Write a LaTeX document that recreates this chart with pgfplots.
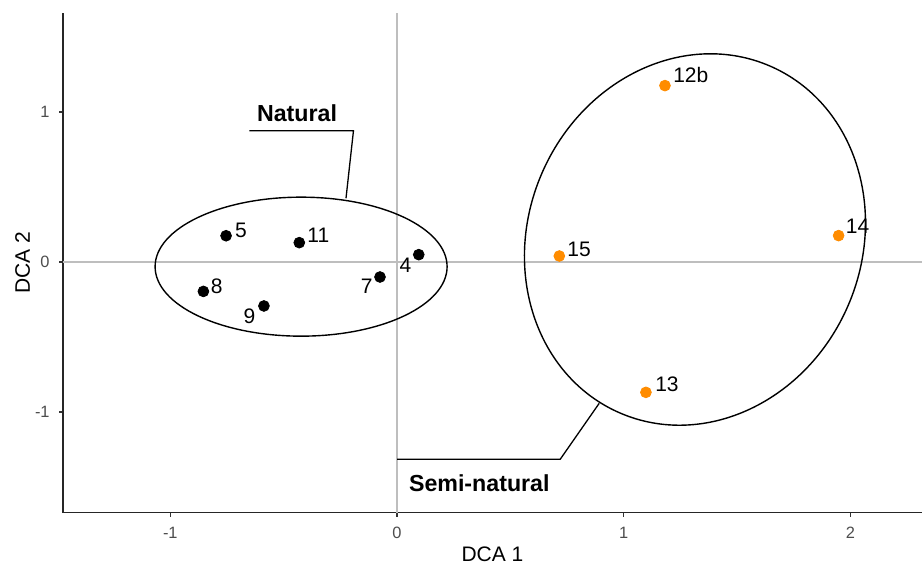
\documentclass[border=0pt]{standalone}
\usepackage{pgfplots}
\pgfplotsset{compat=1.18}
\usepackage{fontspec}
\setmainfont{Liberation Sans}
\definecolor{semi}{RGB}{255,140,0}
\definecolor{ticklab}{RGB}{77,77,77}
\definecolor{refline}{RGB}{190,190,190}
\begin{document}
\begin{tikzpicture}
\begin{axis}[
  at={(0,0)}, anchor=south west,
  x=113.35pt, y=75pt,
  xmin=-1.4733, xmax=2.3158, ymin=-1.67, ymax=1.66,
  axis lines=left,
  axis line style={-, line width=0.8pt, black!85},
  xtick={-1,0,1,2}, xticklabels={-1,0,1,2},
  ytick={-1,0,1}, yticklabels={-1,0,1},
  tick align=outside, major tick length=2pt,
  tick style={line width=0.6pt, black!80},
  ticklabel style={font=\fontsize{8.2}{10}\selectfont, text=ticklab},
  xticklabel style={anchor=base, inner sep=0pt, yshift=-10.9pt},
  yticklabel style={anchor=east, inner sep=0pt, xshift=-4.5pt},
  clip=false,
]
\draw[refline, line width=0.55pt] (axis cs:0,-1.67) -- (axis cs:0,1.66);
\draw[refline, line width=0.55pt] (axis cs:-1.4733,0) -- (axis cs:2.3158,0);
\coordinate (nc) at (axis cs:-0.423,-0.031);
\coordinate (sc) at (axis cs:1.3145,0.15);
% leader lines
\draw[black, line width=0.65pt] (axis cs:-0.651,0.875) -- (axis cs:-0.192,0.875) -- (axis cs:-0.225,0.425);
\draw[black, line width=0.65pt] (axis cs:0,-1.315) -- (axis cs:0.72,-1.315) -- (axis cs:0.892,-0.942);
% Natural
\addplot[only marks, mark=*, mark size=2.7pt, black] coordinates {
(-0.754,0.175) (-0.431,0.129) (0.096,0.049) (-0.075,-0.100) (-0.854,-0.196) (-0.587,-0.293)};
% Semi-natural
\addplot[only marks, mark=*, mark size=2.7pt, semi, mark options={draw=semi, fill=semi}] coordinates {
(1.182,1.176) (1.948,0.176) (0.716,0.040) (1.098,-0.869)};
\tikzset{lab/.style={font=\fontsize{10.5}{12}\selectfont, inner sep=0pt, text=black}}
\node[lab] at (axis cs:-0.688,0.21) {5};
\node[lab] at (axis cs:-0.347,0.175) {11};
\node[lab] at (axis cs:0.037,-0.02) {4};
\node[lab] at (axis cs:-0.134,-0.162) {7};
\node[lab] at (axis cs:-0.795,-0.162) {8};
\node[lab] at (axis cs:-0.651,-0.36) {9};
\node[lab] at (axis cs:1.296,1.245) {12b};
\node[lab] at (axis cs:2.032,0.235) {14};
\node[lab] at (axis cs:0.803,0.085) {15};
\node[lab] at (axis cs:1.191,-0.818) {13};
\node[font=\fontsize{11.6}{13}\selectfont\bfseries, inner sep=0pt] at (axis cs:-0.441,0.991) {Natural};
\node[font=\fontsize{11.6}{13}\selectfont\bfseries, inner sep=0pt] at (axis cs:0.363,-1.475) {Semi-natural};
\end{axis}
\draw[line width=0.7pt] (nc) ellipse [x radius=73pt, y radius=34.75pt];
\draw[line width=0.7pt, rotate around={-23.4:(sc)}] (sc) ellipse [x radius=83.4pt, y radius=94.5pt];
\node[rotate=90, anchor=base, font=\fontsize{10.5}{12}\selectfont, text=black] at (-16.5pt,124.875pt) {DCA 2};
\node[anchor=base, font=\fontsize{10.5}{12}\selectfont, text=black] at (214.75pt,-24.6pt) {DCA 1};
\pgfresetboundingbox
\useasboundingbox (-31.5pt,-25.75pt) rectangle (429.5pt,256.25pt);
\end{tikzpicture}
\end{document}
